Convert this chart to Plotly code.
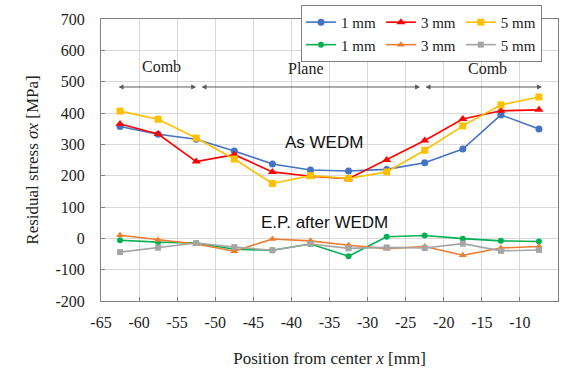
import plotly.graph_objects as go

x_pos = [-62.5, -57.5, -52.5, -47.5, -42.5, -37.5, -32.5, -27.5, -22.5, -17.5, -12.5, -7.5]

wedm_1mm = [357, 332, 316, 279, 237, 218, 215, 220, 241, 285, 394, 349]
wedm_3mm = [365, 333, 245, 267, 212, 198, 190, 250, 312, 381, 407, 410]
wedm_5mm = [406, 380, 320, 253, 175, 200, 191, 212, 281, 359, 426, 451]

ep_1mm = [-6, -12, -15, -35, -38, -18, -57, 5, 9, -1, -8, -10]
ep_3mm = [10, -5, -18, -41, -2, -8, -22, -33, -26, -54, -31, -26]
ep_5mm = [-44, -30, -15, -28, -38, -18, -32, -29, -31, -17, -40, -37]

legend_labels = ["1 mm", "3 mm", "5 mm"]
region_labels = ["Comb", "Plane", "Comb"]
region_label_x = [-57.0, -38.1, -14.3]
region_label_y = [547, 543, 543]
region_spans = [(-62.9, -52.5), (-52.0, -23.1), (-22.6, -7.1)]
arrow_y = 483

x_ticks = list(range(-65, 0, 5))
x_ticktext = ["-65", "-60", "-55", "-50", "-45", "-40", "-35", "-30", "-25", "-20", "-15", "-10", "-5"]
y_ticks = list(range(-200, 701, 100))
y_ticktext = ["-200", "-100", "0", "100", "200", "300", "400", "500", "600", "700"]

colors_wedm = ["#4472C4", "#FF0000", "#FFC000"]
colors_ep = ["#00B050", "#ED7D31", "#A5A5A5"]
symbols = ["circle", "triangle-up", "square"]
msizes = [7, 8, 7]

fig = go.Figure()
serif = "Liberation Serif"

for i, ys in enumerate([wedm_1mm, wedm_3mm, wedm_5mm]):
    fig.add_trace(go.Scatter(
        x=x_pos, y=ys, mode="lines+markers", name=legend_labels[i],
        legendgroup="g%d" % i,
        line=dict(color=colors_wedm[i], width=1.6),
        marker=dict(symbol=symbols[i], size=msizes[i], color=colors_wedm[i]),
    ))
for i, ys in enumerate([ep_1mm, ep_3mm, ep_5mm]):
    fig.add_trace(go.Scatter(
        x=x_pos, y=ys, mode="lines+markers", name=legend_labels[i],
        legendgroup="g%d" % i,
        line=dict(color=colors_ep[i], width=1.6),
        marker=dict(symbol=symbols[i], size=msizes[i] - 1, color=colors_ep[i]),
    ))

annotations = []
for lab, lx, ly in zip(region_labels, region_label_x, region_label_y):
    annotations.append(dict(x=lx, y=ly, xref="x", yref="y", text=lab, showarrow=False,
                            font=dict(family=serif, size=16, color="#222")))
for (x0, x1) in region_spans:
    annotations.append(dict(x=x1, y=arrow_y, ax=x0, ay=arrow_y, xref="x", yref="y",
                            axref="x", ayref="y", text="", showarrow=True,
                            arrowside="end+start", arrowhead=2, arrowsize=1.0,
                            arrowwidth=1, arrowcolor="#595959"))
annotations.append(dict(x=-35.7, y=307, xref="x", yref="y", text="As WEDM", showarrow=False,
                        font=dict(family="Liberation Sans", size=17, color="#111")))
annotations.append(dict(x=-35.7, y=49, xref="x", yref="y", text="E.P. after WEDM", showarrow=False,
                        font=dict(family="Liberation Sans", size=17, color="#111")))

fig.update_layout(
    width=563, height=373,
    margin=dict(l=101, r=5, t=19, b=72, autoexpand=False),
    paper_bgcolor="white", plot_bgcolor="white",
    font=dict(family=serif, size=16, color="#222"),
    annotations=annotations,
    showlegend=True,
    legend=dict(orientation="h", traceorder="grouped", tracegroupgap=0,
                x=0.965, xanchor="right", y=1.05, yanchor="top",
                bgcolor="white", bordercolor="#7F7F7F", borderwidth=1,
                font=dict(family=serif, size=15, color="#222"),
                itemwidth=30),
)
fig.update_xaxes(range=[-65, -5], tickvals=x_ticks, ticktext=x_ticktext,
                 ticks="inside", ticklen=4, ticklabelstandoff=7,
                 tickcolor="#7F7F7F", showgrid=True, gridcolor="#D9D9D9", gridwidth=1,
                 showline=True, linecolor="#7F7F7F", linewidth=1, mirror=True,
                 zeroline=False, tickfont=dict(family=serif, size=16, color="#222"),
                 title=dict(text="Position from center <i>x</i> [mm]", standoff=21,
                            font=dict(family=serif, size=17, color="#222")))
fig.update_yaxes(range=[-200, 700], tickvals=y_ticks, ticktext=y_ticktext,
                 ticks="inside", ticklen=4, ticklabelstandoff=12,
                 tickcolor="#7F7F7F", showgrid=True, gridcolor="#D9D9D9", gridwidth=1,
                 showline=True, linecolor="#7F7F7F", linewidth=1, mirror=True,
                 zeroline=False, tickfont=dict(family=serif, size=16, color="#222"),
                 title=dict(text="Residual stress <i>σx</i> [MPa]", standoff=12,
                            font=dict(family=serif, size=17, color="#222")))

fig.write_html("out.html")
